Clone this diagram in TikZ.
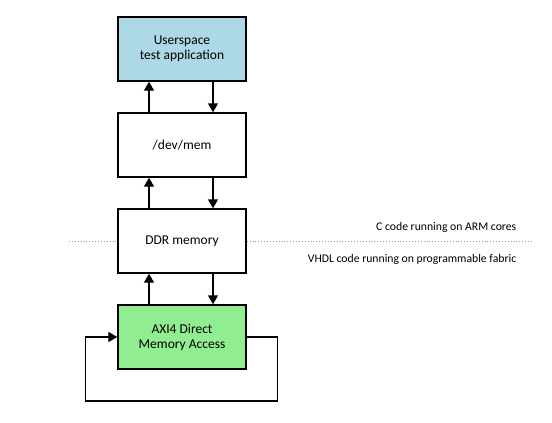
\documentclass[tikz,border=0pt]{standalone}
\usepackage{fontspec}
\setmainfont{Carlito}
\usetikzlibrary{arrows.meta,positioning}
\tikzstyle{block} = [rectangle, draw, line width=1.4pt, fill=white,
    minimum width=128pt, minimum height=64pt, text centered, align=center]
\tikzstyle{side} = [inner sep=0pt, anchor=base east, font=\fontsize{11.7}{14}\selectfont]
\definecolor{userblue}{RGB}{173,216,230}
\definecolor{dmagreen}{RGB}{144,238,144}

\begin{document}
\begin{tikzpicture}[x=1pt,y=1pt,->,>={Triangle[length=9pt,width=10pt]},
                    line width=1.4pt,node distance=96pt,
                    font=\fontsize{13.5}{15}\selectfont]
  \useasboundingbox (0,0) rectangle (552,-423);

  \node[block,fill=userblue]  (app) at (182,-49)   {Userspace\\test application};
  \node[block]                (mem) [below of=app] {/dev/mem};
  \node[block]                (ddr) [below of=mem] {DDR memory};
  \node[block,fill=dmagreen]  (dma) [below of=ddr] {AXI4 Direct\\Memory Access};

  % up and down links
  \draw ([xshift=-33pt]mem.north) -- ([xshift=-33pt]app.south);
  \draw ([xshift=31pt]app.south)  -- ([xshift=31pt]mem.north);
  \draw ([xshift=-33pt]ddr.north) -- ([xshift=-33pt]mem.south);
  \draw ([xshift=31pt]mem.south)  -- ([xshift=31pt]ddr.north);
  \draw ([xshift=-33pt]dma.north) -- ([xshift=-33pt]ddr.south);
  \draw ([xshift=31pt]ddr.south)  -- ([xshift=31pt]dma.north);

  % loop back
  \draw (dma.east) -- ++(31pt,0) -- ++(0,-64pt) -| ([xshift=-32pt]dma.west) -- (dma.west);

  % split line
  \draw[-,gray!80,dotted,line width=0.9pt] ([xshift=-113pt]ddr.center) -- (ddr.west);
  \draw[-,gray!80,dotted,line width=0.9pt] (ddr.east) -- ([xshift=350pt]ddr.center);
  \node[side] (arm)  at ([xshift=335pt,yshift=11pt]ddr.center)  {C code running on ARM cores};
  \node[side] (fpga) at ([xshift=335pt,yshift=-21.5pt]ddr.center) {VHDL code running on programmable fabric};
\end{tikzpicture}
\end{document}
